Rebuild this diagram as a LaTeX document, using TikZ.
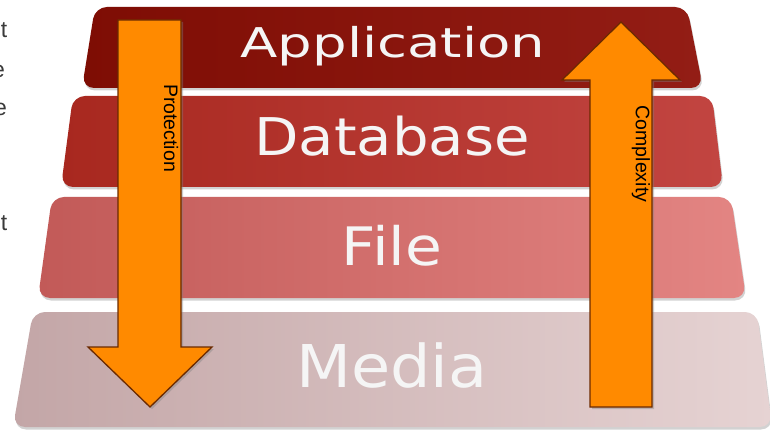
\documentclass[tikz,border=0pt]{standalone}
\usepackage{fontspec}
\usepackage{graphicx}
\usepackage{tikz}
\usetikzlibrary{shadows}

\newfontfamily\layerfont{DejaVu Sans}
\newfontfamily\labelfont{Liberation Sans}
\newcommand{\hstretch}[2]{\scalebox{#1}[1]{#2}}

\definecolor{appL}{HTML}{7E0D04}
\definecolor{appR}{HTML}{931D15}
\definecolor{dbL}{HTML}{A8281F}
\definecolor{dbR}{HTML}{C24541}
\definecolor{fileL}{HTML}{C25A58}
\definecolor{fileR}{HTML}{E38583}
\definecolor{mediaL}{HTML}{C3A6A7}
\definecolor{mediaR}{HTML}{E6D3D3}
\definecolor{arrowfill}{HTML}{FF8A00}
\definecolor{arrowline}{HTML}{6B2A00}
\definecolor{fragtext}{HTML}{3A3A3A}

\begin{document}
\begin{tikzpicture}[
  x=1pt, y=-1pt,
  layer/.style={rounded corners=12pt,
                drop shadow={shadow xshift=1pt, shadow yshift=-2.5pt, opacity=.35}},
  layertext/.style={text=white!96!black, inner sep=0pt, anchor=base},
  bigarrow/.style={fill=arrowfill, draw=arrowline, line width=1.3pt, line join=miter,
                   drop shadow={shadow xshift=2pt, shadow yshift=-2pt, opacity=.4}},
  arrowlabel/.style={font=\labelfont\fontsize{19.5}{19.5}\selectfont, inner sep=0pt, rotate=-90},
  frag/.style={font=\labelfont\fontsize{23}{23}\selectfont, text=fragtext, inner sep=0pt, anchor=base east},
]
  \useasboundingbox (0,0) rectangle (770,430);
  \clip (0,0) rectangle (770,430);
  \fill[white] (0,0) rectangle (770,430);

  % Cut-off text at the left margin
  \node[frag] (frag1) at (7.5,38) {t};
  \node[frag] (frag2) at (5,78) {e};
  \node[frag] (frag3) at (7,116) {e};
  \node[frag] (frag4) at (7.5,230) {t};

  % Layers
  \shade[layer, left color=mediaL, right color=mediaR]
    (33,312) -- (757,312) -- (772,427) -- (13,427) -- cycle;
  \shade[layer, left color=fileL, right color=fileR]
    (52,197) -- (731,197) -- (746,298) -- (38,298) -- cycle;
  \shade[layer, left color=dbL, right color=dbR]
    (73,96) -- (712,96) -- (723,187) -- (61,187) -- cycle;
  \shade[layer, left color=appL, right color=appR]
    (95,7) -- (687,7) -- (703,88) -- (82,88) -- cycle;

  % Layer names
  \node[layertext, font=\layerfont\fontsize{41}{41}\selectfont] (app)   at (393,58)  {\hstretch{1.33}{Application}};
  \node[layertext, font=\layerfont\fontsize{52}{52}\selectfont] (db)    at (392,156) {\hstretch{1.11}{Database}};
  \node[layertext, font=\layerfont\fontsize{53}{53}\selectfont] (file)  at (392,265) {\hstretch{1.13}{File}};
  \node[layertext, font=\layerfont\fontsize{59}{59}\selectfont] (media) at (392,387) {\hstretch{1.08}{Media}};

  % Arrows
  \draw[bigarrow] (118,20) -- (181,20) -- (181,347) -- (212,347) -- (150,407)
    -- (88,347) -- (118,347) -- cycle;
  \draw[bigarrow] (590,407) -- (652,407) -- (652,80) -- (680,80) -- (621,22)
    -- (562,80) -- (590,80) -- cycle;

  % Arrow labels
  \node[arrowlabel] (prot) at (171,128) {Protection};
  \node[arrowlabel] (cplx) at (641,154) {Complexity};
\end{tikzpicture}
\end{document}
